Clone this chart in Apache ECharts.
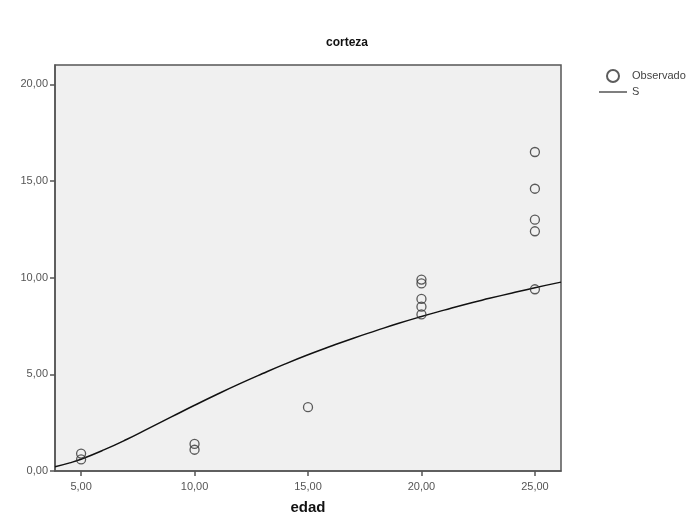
<!DOCTYPE html>
<html>
<head>
<meta charset="utf-8">
<script src="https://cdn.jsdelivr.net/npm/echarts@6/dist/echarts.min.js"></script>
<style>html,body{margin:0;padding:0;background:#fff;}#c{width:694px;height:520px;}</style>
</head>
<body>
<div id="c"></div>
<script>
// Observed points (edad, corteza)
const obsEdad = [5, 5, 10, 10, 15, 20, 20, 20, 20, 20, 25, 25, 25, 25, 25];
const obsCorteza = [0.9, 0.6, 1.4, 1.1, 3.3, 9.9, 9.7, 8.9, 8.5, 8.1, 16.5, 14.6, 13.0, 12.4, 9.4];
// S curve
const curveEdad = [3.85, 4.5, 5, 6, 7, 8, 9, 10, 11, 12, 13, 14, 15, 16, 17, 18, 19, 20, 21, 22, 23, 24, 25, 26.15];
const curveCorteza = [0.22, 0.42, 0.61, 1.09, 1.63, 2.22, 2.81, 3.40, 3.97, 4.52, 5.04, 5.54, 6.01, 6.45, 6.87, 7.26, 7.64, 7.99, 8.32, 8.64, 8.93, 9.21, 9.48, 9.77];
const xTicks = [5, 10, 15, 20, 25];
const yTicks = [0, 5, 10, 15, 20];
const titleText = 'corteza';
const xName = 'edad';
const legendNames = ['Observado', 'S'];

const fmt = v => v.toFixed(2).replace('.', ',');
const lineIcon = 'path://M0,0 L0.01,0 L0.01,0.01 Z M0,5.3 L28,5.3 L28,6.7 L0,6.7 Z M27.99,11.99 L28,11.99 L28,12 Z';
const chart = echarts.init(document.getElementById('c'), null, {renderer: 'canvas'});
chart.setOption({
  animation: false,
  backgroundColor: '#ffffff',
  textStyle: {fontFamily: 'Liberation Sans, Arial, sans-serif'},
  title: {
    text: titleText, left: 'center', top: 32,
    textStyle: {fontSize: 12, fontWeight: 'bold', color: '#111', fontFamily: 'Liberation Sans, Arial, sans-serif'}
  },
  legend: {
    orient: 'vertical', left: 594, top: 64, itemWidth: 28, itemHeight: 12, itemGap: 3,
    data: [{name: legendNames[0], icon: 'circle'}, {name: legendNames[1], icon: lineIcon}],
    textStyle: {fontSize: 11, color: '#444'}
  },
  grid: {
    left: 55, right: 133, top: 65, bottom: 45, show: true,
    backgroundColor: '#f0f0f0', borderColor: '#555', borderWidth: 1.5
  },
  xAxis: {
    type: 'value', min: 3.85, max: 26.15,
    name: xName, nameLocation: 'middle', nameGap: 29,
    nameTextStyle: {fontSize: 15, fontWeight: 'bold', color: '#111'},
    axisLine: {show: true, onZero: false, lineStyle: {color: '#555', width: 1.5}},
    axisTick: {show: true, length: 5, customValues: xTicks, lineStyle: {color: '#555', width: 1.5}},
    axisLabel: {customValues: xTicks, formatter: fmt, fontSize: 11, color: '#555', margin: 10},
    splitLine: {show: false}
  },
  yAxis: {
    type: 'value', min: 0, max: 21,
    axisLine: {show: true, onZero: false, lineStyle: {color: '#555', width: 1.5}},
    axisTick: {show: true, length: 5, customValues: yTicks, lineStyle: {color: '#555', width: 1.5}},
    axisLabel: {customValues: yTicks, formatter: fmt, fontSize: 11, color: '#555', margin: 7},
    splitLine: {show: false}
  },
  series: [
    {
      name: legendNames[0], type: 'scatter', symbol: 'circle', symbolSize: 9,
      itemStyle: {color: 'rgba(240,240,240,0)', borderColor: '#333', borderWidth: 1.3},
      data: obsEdad.map((x, i) => [x, obsCorteza[i]]), z: 3
    },
    {
      name: legendNames[1], type: 'line', symbol: 'none', smooth: true,
      lineStyle: {color: '#111', width: 1.5}, itemStyle: {color: '#555'},
      data: curveEdad.map((x, i) => [x, curveCorteza[i]]), z: 2
    }
  ]
});
</script>
</body>
</html>
